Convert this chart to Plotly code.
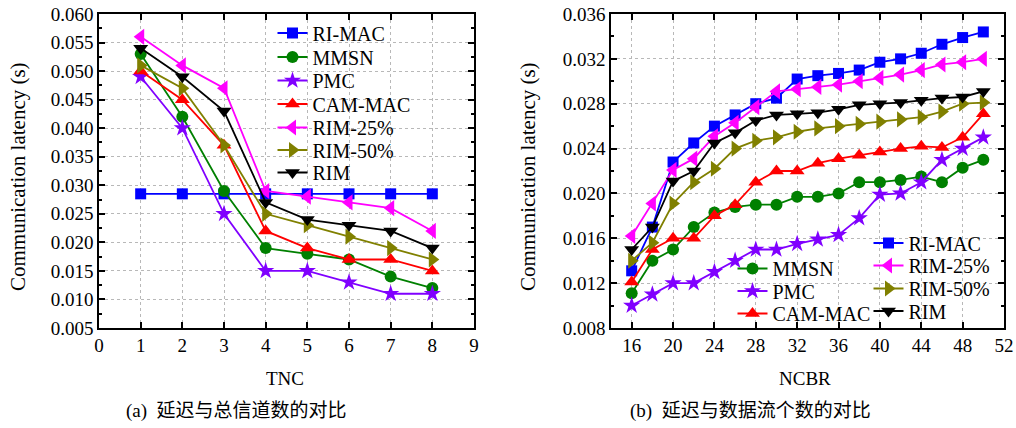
import plotly.graph_objects as go

# ---------------- data ----------------
tnc = [1, 2, 3, 4, 5, 6, 7, 8]
a_rimac = [0.0285, 0.0285, 0.0285, 0.0285, 0.0285, 0.0285, 0.0285, 0.0285]
a_mmsn = [0.053, 0.042, 0.029, 0.019, 0.018, 0.017, 0.014, 0.012]
a_pmc = [0.049, 0.040, 0.025, 0.015, 0.015, 0.013, 0.011, 0.011]
a_cammac = [0.050, 0.045, 0.037, 0.022, 0.019, 0.017, 0.017, 0.015]
a_rim25 = [0.056, 0.051, 0.047, 0.029, 0.028, 0.027, 0.026, 0.022]
a_rim50 = [0.051, 0.047, 0.037, 0.025, 0.023, 0.021, 0.019, 0.017]
a_rim = [0.054, 0.049, 0.043, 0.027, 0.024, 0.023, 0.022, 0.019]

ncbr = [16, 18, 20, 22, 24, 26, 28, 30, 32, 34, 36, 38, 40, 42, 44, 46, 48, 50]
b_rimac = [0.0131, 0.0170, 0.0228, 0.0245, 0.0260, 0.0270, 0.0280, 0.0285, 0.0302,
           0.0305, 0.0307, 0.0310, 0.0317, 0.0320, 0.0325, 0.0333, 0.0339, 0.0344]
b_mmsn = [0.0111, 0.0140, 0.0150, 0.0170, 0.0183, 0.0188, 0.0190, 0.0190, 0.0197,
          0.0197, 0.0200, 0.0210, 0.0210, 0.0212, 0.0215, 0.0210, 0.0223, 0.0230]
b_pmc = [0.0100, 0.0110, 0.0120, 0.0120, 0.0130, 0.0140, 0.0150, 0.0150, 0.0155,
         0.0159, 0.0163, 0.0178, 0.0199, 0.0200, 0.0210, 0.0230, 0.0240, 0.0250]
b_cammac = [0.0121, 0.0150, 0.0160, 0.0160, 0.0180, 0.0190, 0.0210, 0.0220, 0.0220,
            0.0227, 0.0231, 0.0234, 0.0237, 0.0240, 0.0242, 0.0241, 0.0250, 0.0271]
b_rim25 = [0.0162, 0.0191, 0.0221, 0.0231, 0.0251, 0.0263, 0.0277, 0.0291, 0.0293,
           0.0295, 0.0297, 0.0300, 0.0303, 0.0306, 0.0310, 0.0315, 0.0317, 0.0320]
b_rim50 = [0.0140, 0.0156, 0.0191, 0.0210, 0.0222, 0.0240, 0.0247, 0.0250, 0.0255,
           0.0258, 0.0260, 0.0262, 0.0264, 0.0266, 0.0268, 0.0273, 0.0280, 0.0281]
b_rim = [0.0150, 0.0170, 0.0211, 0.0220, 0.0245, 0.0254, 0.0265, 0.0270, 0.0271,
         0.0272, 0.0275, 0.0279, 0.0280, 0.0281, 0.0283, 0.0285, 0.0286, 0.0291]

names = ["RI-MAC", "MMSN", "PMC", "CAM-MAC", "RIM-25%", "RIM-50%", "RIM"]
colors = ["#0000FF", "#008000", "#8000FF", "#FF0000", "#FF00FF", "#808000", "#000000"]
symbols = ["square", "circle", "star", "triangle-up", "triangle-left", "triangle-right", "triangle-down"]
msizes = [11, 12, 13, 13, 14, 14, 13]

left_series = [a_rimac, a_mmsn, a_pmc, a_cammac, a_rim25, a_rim50, a_rim]
right_series = [b_rimac, b_mmsn, b_pmc, b_cammac, b_rim25, b_rim50, b_rim]

W, H = 1016, 428
def px(v):
    return v / W
def py(v):
    return 1 - v / H

# legend entry placement (pixel positions: line start x, row centre y)
left_leg_pos = [(278, 33), (278, 57), (278, 80.5), (278, 104), (278, 127.5), (278, 150), (278, 172.5)]
right_leg_pos = [(874, 243), (738, 268.5), (738, 291), (738, 313.5), (874, 265.5), (874, 288.5), (874, 311)]

SERIF = "Liberation Serif"
FS = 19
LFS = 20

fig = go.Figure()
legends = {}
for i, name in enumerate(names):
    lid = "legend" if i == 0 else f"legend{i + 1}"
    fig.add_trace(go.Scatter(
        x=tnc, y=left_series[i], name=name, mode="lines+markers",
        line=dict(color=colors[i], width=1.8),
        marker=dict(symbol=symbols[i], size=msizes[i], color=colors[i], line=dict(width=0)),
        xaxis="x", yaxis="y", legend=lid))
    lx, ly = left_leg_pos[i]
    legends[lid] = dict(x=px(lx - 5.5), y=py(ly), xanchor="left", yanchor="middle",
                        font=dict(family=SERIF, size=LFS, color="black"),
                        bgcolor="rgba(0,0,0,0)", borderwidth=0, itemwidth=30)
for i, name in enumerate(names):
    lid = f"legend{i + 8}"
    fig.add_trace(go.Scatter(
        x=ncbr, y=right_series[i], name=name, mode="lines+markers",
        line=dict(color=colors[i], width=1.8),
        marker=dict(symbol=symbols[i], size=msizes[i], color=colors[i], line=dict(width=0)),
        xaxis="x2", yaxis="y2", legend=lid))
    lx, ly = right_leg_pos[i]
    legends[lid] = dict(x=px(lx - 5.5), y=py(ly), xanchor="left", yanchor="middle",
                        font=dict(family=SERIF, size=LFS, color="black"),
                        bgcolor="rgba(0,0,0,0)", borderwidth=0, itemwidth=30)

axis_common = dict(
    showline=True, linecolor="black", linewidth=1.5, mirror="ticks",
    ticks="inside", ticklen=6, tickwidth=1.5, tickcolor="black",
    showgrid=True, gridcolor="#b8b8b8", griddash="dot", gridwidth=1,
    zeroline=False, tickfont=dict(family=SERIF, size=FS, color="black"),
)

fig.update_layout(
    width=W, height=H, autosize=False,
    margin=dict(l=0, r=0, t=0, b=0, autoexpand=False),
    paper_bgcolor="white", plot_bgcolor="white",
    font=dict(family=SERIF, size=FS, color="black"),
    xaxis=dict(domain=[px(99), px(474)], range=[0, 9], dtick=1, tick0=0,
               anchor="y", ticklabelstandoff=-1, **axis_common),
    yaxis=dict(domain=[1 - 328 / H, 1 - 14 / H], range=[0.005, 0.060], dtick=0.005,
               tick0=0.005, tickformat=".3f", anchor="x",
               minor=dict(ticks="inside", ticklen=3, dtick=0.0025, tickcolor="black",
                          showgrid=False),
               **axis_common),
    xaxis2=dict(domain=[px(611), px(1004)], range=[14, 52], dtick=4, tick0=16,
                anchor="y2", ticklabelstandoff=-1, **axis_common),
    yaxis2=dict(domain=[1 - 328 / H, 1 - 14 / H], range=[0.008, 0.036], dtick=0.004,
                tick0=0.008, tickformat=".3f", anchor="x2",
                minor=dict(ticks="inside", ticklen=3, dtick=0.002, tickcolor="black",
                           showgrid=False),
                **axis_common),
    showlegend=True,
    **legends,
)

def note(text, x, y, font, angle=0):
    fig.add_annotation(text=text, x=px(x), y=py(y), xref="paper", yref="paper",
                       xanchor="center", yanchor="middle", textangle=angle,
                       showarrow=False, font=font)

ann_font = dict(family=SERIF, size=FS, color="black")
ytitle_font = dict(family=SERIF, size=21, color="black")
cap_font = dict(family="Liberation Serif, Noto Sans CJK SC", size=19, color="black")
note("Communication latency (s)", 18, 177, ytitle_font, -90)
note("Communication latency (s)", 528, 177, ytitle_font, -90)
note("TNC", 285, 378, ann_font)
note("NCBR", 805, 378, ann_font)
note("(a)  延迟与总信道数的对比", 236, 411, cap_font)
note("(b)  延迟与数据流个数的对比", 750, 411, cap_font)

fig.write_html("out.html")
